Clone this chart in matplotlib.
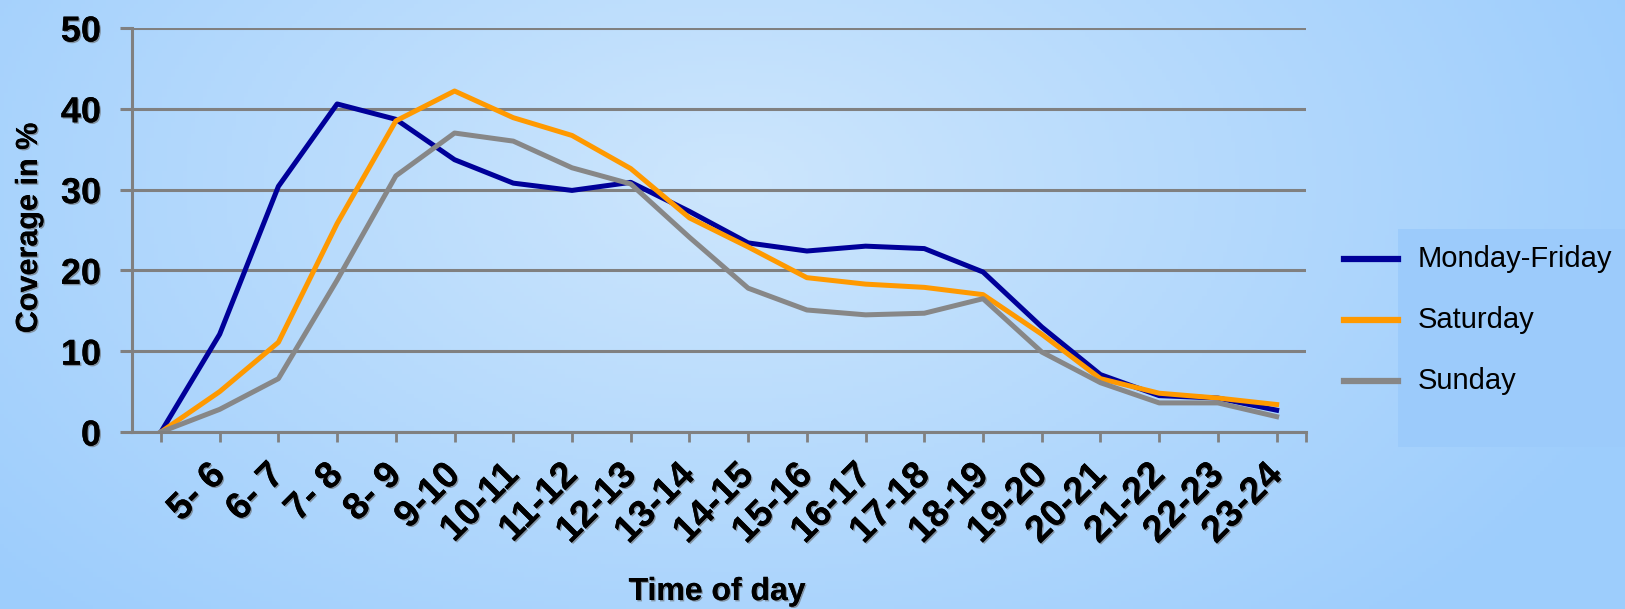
import numpy as np
import matplotlib
matplotlib.use("Agg")
import matplotlib.pyplot as plt
import matplotlib.patheffects as pe
from matplotlib.colors import to_rgb
from matplotlib.lines import Line2D
from matplotlib.patches import Rectangle

plt.rcParams['font.family'] = ['Liberation Sans', 'DejaVu Sans']

# hour slots; first point (start of day) has no label
hours = ['', '5- 6', '6- 7', '7- 8', '8- 9', '9-10', '10-11', '11-12', '12-13',
         '13-14', '14-15', '15-16', '16-17', '17-18', '18-19', '19-20',
         '20-21', '21-22', '22-23', '23-24']
mon_fri = [0, 12.1, 30.4, 40.6, 38.7, 33.7, 30.8, 29.9, 30.9, 27.3, 23.4,
           22.4, 23.0, 22.7, 19.8, 13.0, 7.1, 4.5, 4.2, 2.7]
saturday = [0, 5.0, 11.1, 25.8, 38.5, 42.2, 38.9, 36.7, 32.6, 26.5, 22.9,
            19.1, 18.3, 17.9, 17.0, 12.1, 6.6, 4.8, 4.2, 3.4]
sunday = [0, 2.8, 6.6, 18.8, 31.7, 37.0, 36.0, 32.7, 30.7, 24.1, 17.8,
          15.1, 14.5, 14.7, 16.5, 9.9, 6.1, 3.6, 3.6, 1.9]

series = [('Monday-Friday', mon_fri, '#000099'),
          ('Saturday', saturday, '#ff9900'),
          ('Sunday', sunday, '#878787')]

W, H = 1625, 609
fig = plt.figure(figsize=(W / 100, H / 100), dpi=100)

# background gradient, lighter towards the upper middle
bg = fig.add_axes([0, 0, 1, 1], zorder=-10)
gx, gy = np.meshgrid(np.linspace(0, 1, 400), np.linspace(0, 1, 150))
d = np.sqrt(((gx - 0.45) / 0.6) ** 2 + ((gy - 0.3) / 1.0) ** 2)
d = np.clip(d, 0, 1)[..., None]
light, dark = np.array(to_rgb('#cde6fd')), np.array(to_rgb('#9dcdfc'))
bg.imshow(light * (1 - d) + dark * d, aspect='auto', extent=[0, 1, 0, 1],
          origin='upper')
bg.set_axis_off()

shadow = [pe.withSimplePatchShadow(offset=(1, -1), shadow_rgbFace='#666666',
                                   alpha=0.6), pe.Normal()]

ax = fig.add_axes([131.6 / W, 1 - 432 / H, (1306 - 131.6) / W, (432 - 28) / H])
ax.patch.set_alpha(0)
x = np.arange(len(hours))
for name, vals, col in series:
    ax.plot(x, vals, color=col, lw=3.6, solid_joinstyle='round', label=name)

ax.set_xlim(-0.5, len(hours) - 0.5)
ax.set_ylim(0, 50)
ax.set_yticks(range(0, 51, 10))
ax.yaxis.grid(True, color='#808080', lw=2.2)
ax.set_axisbelow(True)
ax.set_xticks(list(x) + [len(hours) - 0.5])
ax.set_xticklabels(hours + [''], rotation=45, ha='right', va='center',
                   rotation_mode='anchor', fontsize=27, fontweight='bold')
ax.tick_params(axis='x', length=7, width=2, color='#808080', pad=20)
ax.tick_params(axis='y', length=9, width=2.2, color='#808080', pad=13,
               labelsize=26)
for lab in ax.get_yticklabels():
    lab.set_fontweight('bold')
for lab in ax.get_xticklabels() + ax.get_yticklabels():
    lab.set_path_effects(shadow)
for s in ('top', 'right'):
    ax.spines[s].set_visible(False)
for s in ('left', 'bottom'):
    ax.spines[s].set_color('#808080')
    ax.spines[s].set_linewidth(2.2)

fig.text(29 / W, 1 - 228 / H, 'Coverage in %', rotation=90, ha='center',
         va='center', fontsize=22, fontweight='bold', path_effects=shadow)
fig.text(717 / W, 1 - 592 / H, 'Time of day', ha='center', va='center',
         fontsize=23, fontweight='bold', path_effects=shadow)

# legend box
fig.add_artist(Rectangle((1398 / W, 1 - 447 / H), (W - 1398) / W, 218 / H,
                         transform=fig.transFigure, facecolor='#9ccbfb',
                         edgecolor='none', zorder=1))
for i, (name, vals, col) in enumerate(series):
    yy = 1 - (259 + i * 61) / H
    fig.add_artist(Line2D([1344 / W, 1398 / W], [yy, yy], color=col, lw=4.5,
                          transform=fig.transFigure, zorder=2))
    fig.text(1418 / W, yy, name, ha='left', va='center', fontsize=21,
             zorder=3)

fig.savefig('out.png', dpi=100)
